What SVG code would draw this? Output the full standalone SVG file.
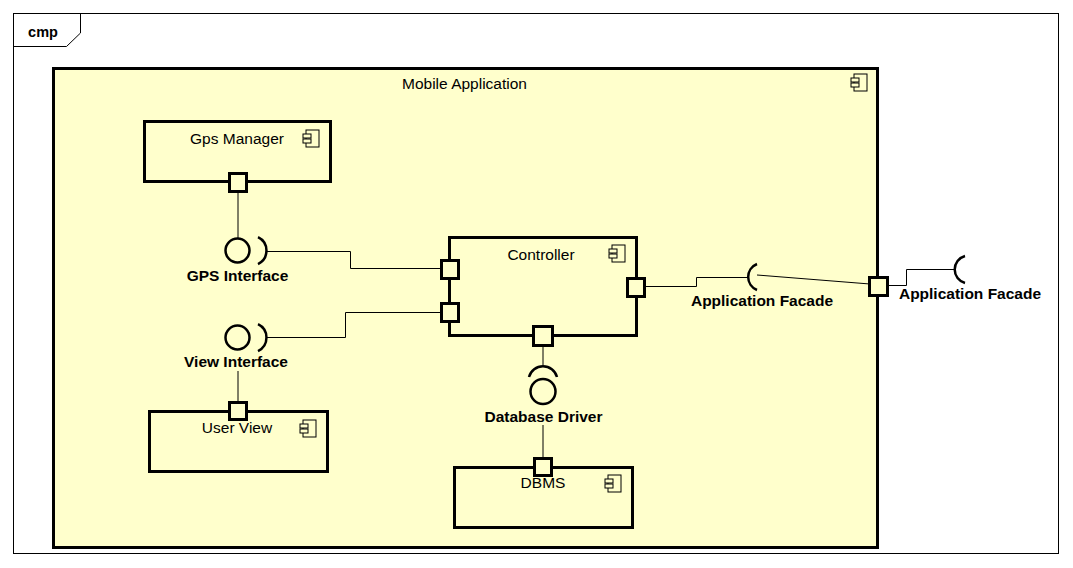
<svg xmlns="http://www.w3.org/2000/svg" width="1073" height="568" viewBox="0 0 1073 568">
<style>
.frame{fill:#fff;stroke:#000;stroke-width:1}
.comp{fill:#FFFFCC;stroke:#000;stroke-width:3}
.port{fill:#FFFFCC;stroke:#000;stroke-width:3}
.ico{fill:#FFFFCC;stroke:#000;stroke-width:1}
.conn{fill:none;stroke:#000;stroke-width:1}
.ball{fill:none;stroke:#000;stroke-width:2.5}
.name{font-family:"Liberation Sans",Arial,sans-serif;font-size:15.5px;fill:#000;text-anchor:middle}
.lbl{font-family:"Liberation Sans",Arial,sans-serif;font-size:15.5px;font-weight:bold;fill:#000;text-anchor:middle}
</style>
<defs>
<g id="icon">
<rect class="ico" x="0" y="0" width="13" height="17"/>
<rect class="ico" x="-3" y="4" width="8" height="4"/>
<rect class="ico" x="-3" y="9" width="8" height="4"/>
</g>
</defs>
<g id="frame">
<rect class="frame" x="13.5" y="13.5" width="1045" height="540"/>
<path class="conn" d="M13.5,46.5 H66.5 L80.5,33 V13.5"/>
<text x="43" y="37" class="lbl" style="font-size:14.5px">cmp</text>
</g>
<g id="mobile-application">
<rect class="comp" x="53.5" y="68.5" width="824" height="479"/>
<text x="464.5" y="89" class="name">Mobile Application</text>
<use href="#icon" x="854" y="74"/>
</g>
<g id="connectors">
<path class="conn" d="M238,192 V238"/>
<path class="conn" d="M266,251.5 H350.5 V268.5 H441"/>
<path class="conn" d="M266,337.5 H345.5 V312.5 H441"/>
<path class="conn" d="M238,371 V402"/>
<path class="conn" d="M543,346 V365"/>
<path class="conn" d="M543,425 V458"/>
<path class="conn" d="M645,286.5 H696.5 V277.5 H748"/>
<path class="conn" d="M757,275 L870,284"/>
<path class="conn" d="M888,285.5 H906.5 V269.5 H955"/>
</g>
<g id="gps-manager">
<rect class="comp" x="144.5" y="121.5" width="186" height="60"/>
<text x="237" y="144" class="name">Gps Manager</text>
<use href="#icon" x="306" y="130"/>
<rect class="port" x="229.5" y="173.5" width="17" height="18"/>
</g>
<g id="gps-interface">
<circle class="ball" cx="237.5" cy="250.5" r="12"/>
<path class="ball" d="M258,237 A15,15 0 0 1 258,264"/>
<text x="237.5" y="281" class="lbl">GPS Interface</text>
</g>
<g id="view-interface">
<circle class="ball" cx="237.5" cy="337.5" r="12"/>
<path class="ball" d="M258,324 A15,15 0 0 1 258,351"/>
<text x="236" y="367" class="lbl">View Interface</text>
</g>
<g id="controller">
<rect class="comp" x="449.5" y="237.5" width="187" height="98"/>
<text x="541" y="260" class="name">Controller</text>
<use href="#icon" x="612" y="245"/>
<rect class="port" x="441.5" y="260.5" width="17" height="18"/>
<rect class="port" x="441.5" y="303.5" width="17" height="18"/>
<rect class="port" x="627.5" y="278.5" width="17" height="18"/>
<rect class="port" x="533.5" y="326.5" width="19" height="19"/>
</g>
<g id="database-driver">
<path class="ball" d="M529,377 A14.5,14.5 0 0 1 557,377"/>
<circle class="ball" cx="543" cy="391.5" r="12.5"/>
<text x="543.5" y="422" class="lbl">Database Driver</text>
</g>
<g id="user-view">
<rect class="comp" x="149.5" y="411.5" width="178" height="60"/>
<text x="237" y="433" class="name">User View</text>
<use href="#icon" x="303" y="420"/>
<rect class="port" x="229.5" y="402.5" width="17" height="17"/>
</g>
<g id="dbms">
<rect class="comp" x="454.5" y="467.5" width="178" height="60"/>
<text x="543" y="488" class="name">DBMS</text>
<use href="#icon" x="608" y="475"/>
<rect class="port" x="534.5" y="458.5" width="17" height="17"/>
</g>
<g id="application-facade-inner">
<path class="ball" d="M757,264 A14,14 0 0 0 757,290"/>
<text x="762" y="306" class="lbl">Application Facade</text>
</g>
<g id="application-facade-port">
<rect class="port" x="869.5" y="277.5" width="18" height="18"/>
</g>
<g id="application-facade-outer">
<path class="ball" d="M965,256 A14,14 0 0 0 965,283"/>
<text x="970" y="299" class="lbl">Application Facade</text>
</g>
</svg>
